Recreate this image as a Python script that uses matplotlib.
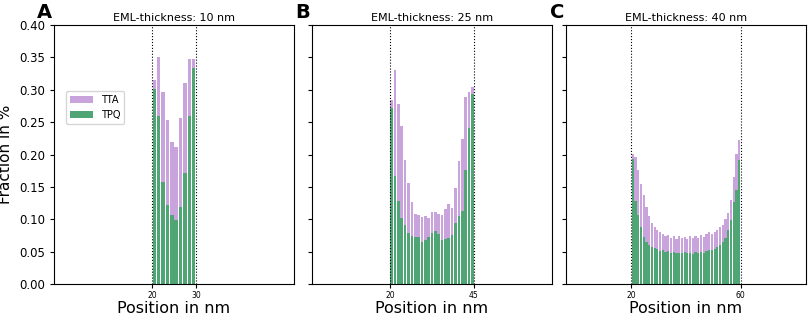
import matplotlib
matplotlib.use("Agg")
import matplotlib.pyplot as plt
import numpy as np

# EML thickness per panel (nm); emitting layer starts at 20 nm
thickness = [10, 25, 40]
panel_letters = ["A", "B", "C"]

# panel A: 10 nm EML, positions 20..29
total_a = [0.315, 0.351, 0.297, 0.254, 0.220, 0.212, 0.257, 0.311, 0.347, 0.347]
tpq_a = [0.301, 0.259, 0.158, 0.123, 0.107, 0.099, 0.120, 0.171, 0.260, 0.333]

# panel B: 25 nm EML, positions 20..44
total_b = [0.285, 0.331, 0.278, 0.244, 0.192, 0.157, 0.127, 0.108, 0.107, 0.104,
           0.105, 0.103, 0.111, 0.112, 0.108, 0.107, 0.116, 0.124, 0.117, 0.148,
           0.190, 0.224, 0.289, 0.297, 0.305]
tpq_b = [0.272, 0.167, 0.129, 0.103, 0.0915, 0.079, 0.074, 0.0735, 0.0725, 0.066,
         0.069, 0.0735, 0.079, 0.082, 0.0776, 0.068, 0.070, 0.071, 0.076, 0.094,
         0.105, 0.113, 0.176, 0.241, 0.293]

# panel C: 40 nm EML, positions 20..59
total_c = [0.201, 0.196, 0.176, 0.155, 0.137, 0.120, 0.105, 0.095, 0.089, 0.084,
           0.080, 0.078, 0.074, 0.076, 0.072, 0.075, 0.070, 0.074, 0.071, 0.073,
           0.070, 0.074, 0.071, 0.075, 0.072, 0.076, 0.073, 0.077, 0.080, 0.078,
           0.081, 0.084, 0.088, 0.092, 0.100, 0.110, 0.130, 0.166, 0.201, 0.222]
tpq_c = [0.194, 0.129, 0.107, 0.089, 0.073, 0.066, 0.061, 0.058, 0.056, 0.054,
         0.052, 0.053, 0.050, 0.051, 0.049, 0.050, 0.048, 0.049, 0.048, 0.050,
         0.048, 0.049, 0.047, 0.050, 0.048, 0.050, 0.049, 0.051, 0.053, 0.053,
         0.055, 0.057, 0.060, 0.065, 0.072, 0.084, 0.099, 0.127, 0.146, 0.192]

totals = [total_a, total_b, total_c]
tpqs = [tpq_a, tpq_b, tpq_c]

tta_color = "#c9a3dc"
tpq_color = "#4fa574"

fig = plt.figure(figsize=(8.09, 3.17), dpi=100)
lefts = [54 / 809, 312 / 809, 566 / 809]
width = 240 / 809
bottom = 1 - 284.3 / 317
height = (284.3 - 25) / 317

for i, d in enumerate(thickness):
    ax = fig.add_axes([lefts[i], bottom, width, height])
    pos = np.arange(20, 20 + d) + 0.5
    tpq = np.array(tpqs[i])
    tta = np.array(totals[i]) - tpq
    ax.bar(pos, tta, bottom=tpq, width=0.78, color=tta_color, label="TTA")
    ax.bar(pos, tpq, width=0.78, color=tpq_color, label="TPQ")
    ax.axvline(20, color="k", ls=":", lw=0.8)
    ax.axvline(20 + d, color="k", ls=":", lw=0.8)

    span = 40 + d
    ax.set_xlim(-0.05 * span, 1.05 * span)
    ax.set_ylim(0, 0.4)
    ax.set_yticks(np.arange(0, 0.41, 0.05))
    ax.set_xticks([20, 20 + d])
    ax.tick_params(axis="x", labelsize=5.5, length=3, pad=2)
    ax.tick_params(axis="y", labelsize=8.5, length=3)
    if i == 0:
        ax.set_ylabel("Fraction in %", fontsize=11)
        ax.legend(loc="upper left", bbox_to_anchor=(0.05, 0.745),
                  borderaxespad=0, fontsize=7, handlelength=2.4)
    else:
        ax.set_yticklabels([])
    ax.set_xlabel("Position in nm", fontsize=11.5, labelpad=0.5)
    ax.set_title(f"EML-thickness: {d} nm", fontsize=8, pad=3)
    ax.text(-0.008, 1.01, panel_letters[i], transform=ax.transAxes,
            fontsize=14, fontweight="bold", ha="right", va="bottom")

fig.savefig("out.png", dpi=100)
